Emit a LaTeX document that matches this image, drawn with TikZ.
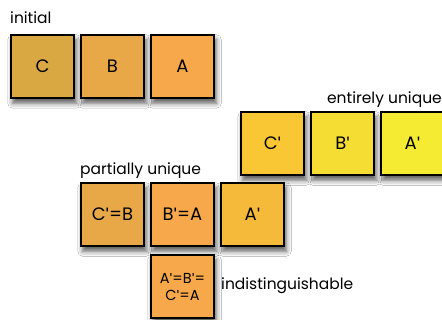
\documentclass[tikz,border=0pt]{standalone}
\usepackage{fontspec}
\setmainfont{Poppins}
\newfontfamily\primefont{Liberation Sans}
\usetikzlibrary{shadows.blur}
\definecolor{cC}{HTML}{D9A842}
\definecolor{cB}{HTML}{E8A848}
\definecolor{cA}{HTML}{F7A84A}
\definecolor{cCp}{HTML}{F8C733}
\definecolor{cBp}{HTML}{F5DD33}
\definecolor{cAp}{HTML}{F5EB33}
\definecolor{cApp}{HTML}{F6BA3A}
\newcommand{\qq}{{\primefont\char"0027\relax}}
\tikzset{
  tile/.style={draw=black, line width=1.7pt, minimum size=63.5pt, inner sep=0pt,
    font=\fontsize{18}{20}\selectfont, align=center,
    blur shadow={shadow xshift=2pt, shadow yshift=-5pt, shadow blur radius=5pt, shadow opacity=65}},
  lbl/.style={anchor=base west, inner sep=0pt, font=\fontsize{15.5}{17}\selectfont}
}
\begin{document}
\begin{tikzpicture}[x=1pt,y=-1pt]
\useasboundingbox (0,0) rectangle (442,320);
\fill[white] (0,0) rectangle (442,320);
% initial
\node[lbl] (linit) at (10,24) {initial};
\node[tile, fill=cC] (c) at (42.5,66.5) {C};
\node[tile, fill=cB] (b) at (112.5,66.5) {B};
\node[tile, fill=cA] (a) at (182.5,66.5) {A};
% entirely unique
\node[lbl, anchor=base east] (lent) at (442,104) {entirely unique};
\node[tile, fill=cCp] (cp) at (272.5,143.5) {C\qq};
\node[tile, fill=cBp] (bp) at (342.5,143.5) {B\qq};
\node[tile, fill=cAp] (ap) at (412.5,143.5) {A\qq};
% partially unique
\node[lbl] (lpart) at (80,175) {partially unique};
\node[tile, fill=cB] (cpb) at (112.5,214.5) {C\qq=B};
\node[tile, fill=cA] (bpa) at (182.5,214.5) {B\qq=A};
\node[tile, fill=cApp] (app) at (252.5,214.5) {A\qq};
% indistinguishable
\node[tile, fill=cA, font=\fontsize{14.5}{17}\selectfont] (all) at (182.5,286.5) {A\qq=B\qq=\\C\qq=A};
\node[lbl] (lind) at (221,290) {indistinguishable};
\end{tikzpicture}
\end{document}
